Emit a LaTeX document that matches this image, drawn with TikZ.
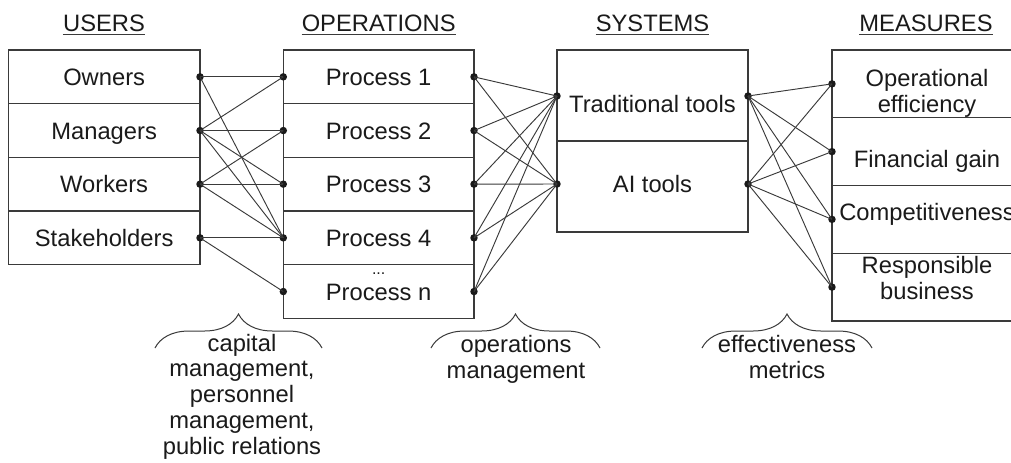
\documentclass[tikz,border=0pt]{standalone}
\usepackage{fontspec}
\setmainfont{Liberation Sans}
\usetikzlibrary{decorations.pathreplacing}
\definecolor{ink}{HTML}{1A1A1A}
\definecolor{edge}{HTML}{3A3A3A}

\tikzset{
  cell/.style n args={2}{draw=edge, line width=0.9pt, anchor=north west,
    inner sep=0pt, outer sep=0pt,
    minimum width={#1*0.75pt}, minimum height={#2*0.75pt},
    text height=12.75pt, text depth=0pt},
  lbl/.style={anchor=base, align=center, inner sep=0pt},
  hdr/.style={anchor=base, inner sep=0pt},
  dot/.style={circle, fill=ink, draw=none, inner sep=0pt, minimum size=5.6pt},
  wire/.style={draw=edge, line width=0.7pt},
  curly/.style={draw=edge, line width=0.75pt, decorate,
    decoration={brace, amplitude=25.5pt, aspect=0.5}},
}

\begin{document}
\begin{tikzpicture}[x=0.75pt, y=-0.75pt, text=ink,
  font=\fontsize{17.8pt}{19.3pt}\selectfont]
\useasboundingbox (0,0) rectangle (1011,462);
\clip (0,0) rectangle (1011,462);
\fill[white] (0,0) rectangle (1011,462);

% column headings, underlined
\node[hdr] (hU) at (104,31.5) {USERS};
\node[hdr] (hO) at (378.7,31.5) {OPERATIONS};
\node[hdr] (hS) at (652.5,31.5) {SYSTEMS};
\node[hdr] (hM) at (926,31.5) {MEASURES};
\foreach \h in {hU,hO,hS,hM}
  \draw[edge, line width=0.75pt] ([yshift=-2.6pt]\h.base west) -- ([yshift=-2.6pt]\h.base east);

% users column
\node[cell={191.7}{53.7}] (u1) at (8.3,50)    {Owners};
\node[cell={191.7}{53.7}] (u2) at (8.3,103.7) {Managers};
\node[cell={191.7}{53.7}] (u3) at (8.3,157.3) {Workers};
\node[cell={191.7}{53.7}] (u4) at (8.3,211)   {Stakeholders};

% operations column
\node[cell={190.7}{53.7}] (o1) at (283.3,50)    {Process 1};
\node[cell={190.7}{53.7}] (o2) at (283.3,103.7) {Process 2};
\node[cell={190.7}{53.7}] (o3) at (283.3,157.3) {Process 3};
\node[cell={190.7}{53.7}] (o4) at (283.3,211)   {Process 4};
\node[cell={190.7}{53.7}] (o5) at (283.3,264.7) {Process n};
\node[lbl, font=\fontsize{12pt}{14pt}\selectfont] (odots) at (378.7,274.5) {...};

% systems column
\node[cell={191}{91}] (s1) at (557,50)  {};
\node[cell={191}{91}] (s2) at (557,141) {};
\node[lbl] (st1) at (652.5,112) {Traditional tools};
\node[lbl] (st2) at (652.5,192) {AI tools};

% measures column (two-line captions are placed by their last line)
\node[cell={190}{67.75}] (m1) at (832,50)     {};
\node[cell={190}{67.75}] (m2) at (832,117.75) {};
\node[cell={190}{67.75}] (m3) at (832,185.5)  {};
\node[cell={190}{67.75}] (m4) at (832,253.25) {};
\node[lbl] (mt1) at (927,112)  {Operational\\efficiency};
\node[lbl] (mt2) at (927,167)  {Financial gain};
\node[lbl] (mt3) at (927,220)  {Competitiveness};
\node[lbl] (mt4) at (927,299)  {Responsible\\business};

% connection points
\foreach \i in {1,...,4} \node[dot] (ur\i) at (u\i.east) {};
\foreach \i in {1,...,5} {
  \node[dot] (ol\i) at (o\i.west) {};
  \node[dot] (or\i) at (o\i.east) {};
}
\node[dot] (sl1) at (557,96)  {};
\node[dot] (sl2) at (557,184) {};
\node[dot] (sr1) at (748,96)  {};
\node[dot] (sr2) at (748,184) {};
\foreach \i in {1,...,4} \node[dot] (ml\i) at (m\i.west) {};

% users -> operations
\foreach \a/\b in {1/1,1/4,2/1,2/2,2/3,2/4,3/2,3/3,3/4,4/4,4/5}
  \draw[wire] (ur\a.center) -- (ol\b.center);
% operations -> systems
\foreach \a in {1,...,5}
  \foreach \b in {1,2}
    \draw[wire] (or\a.center) -- (sl\b.center);
% systems -> measures
\foreach \a in {1,2}
  \foreach \b in {1,...,4}
    \draw[wire] (sr\a.center) -- (ml\b.center);

% braces with their captions (placed by their last line)
\draw[curly] (155,348) -- (322,348);
\draw[curly] (431,348) -- (600,348);
\draw[curly] (702,348) -- (872,348);
\node[lbl] (c1) at (242,454) {capital\\management,\\personnel\\management,\\public relations};
\node[lbl] (c2) at (516,378) {operations\\management};
\node[lbl] (c3) at (787,378) {effectiveness\\metrics};
\end{tikzpicture}
\end{document}
